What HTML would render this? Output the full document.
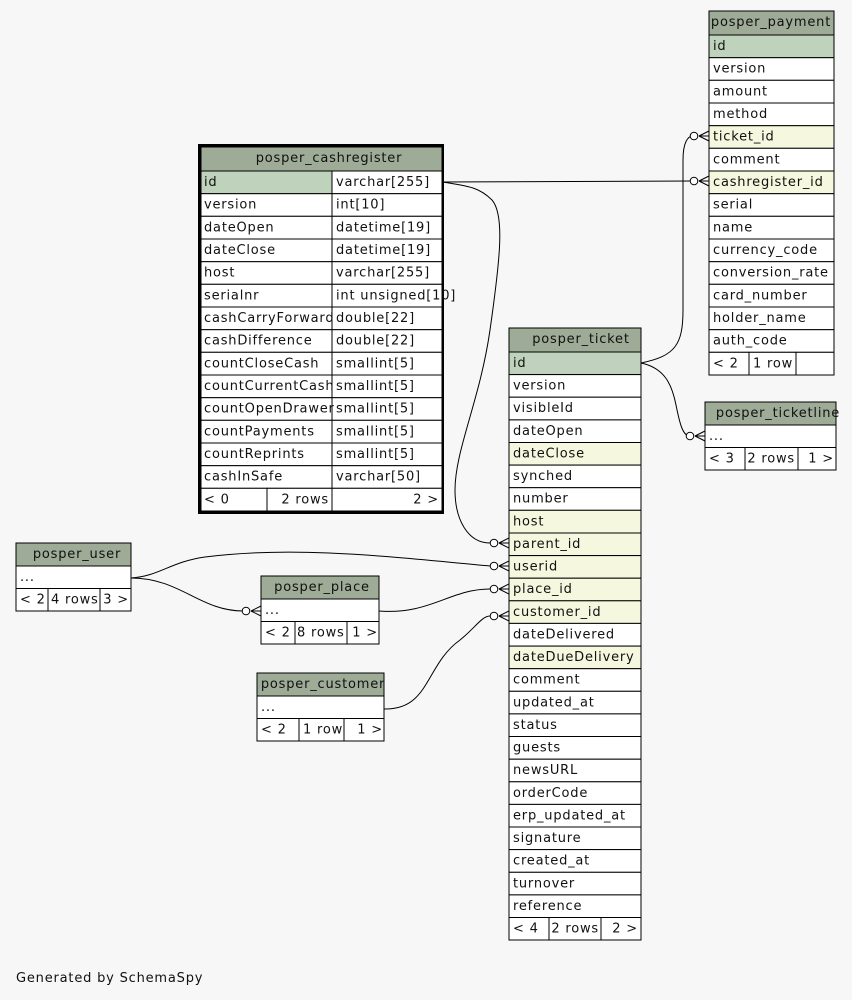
<!DOCTYPE html>
<html><head><meta charset="utf-8"><style>
html,body{margin:0;padding:0;background:#f7f7f7;}
svg{display:block;font-family:"DejaVu Sans","Liberation Sans",sans-serif;font-size:13px;letter-spacing:0.8px;}
.h{fill:#9eab97;stroke:#000;stroke-width:1}
.p{fill:#bfd2bb;stroke:#000;stroke-width:1}
.w{fill:#fff;stroke:#000;stroke-width:1}
.f{fill:#f5f8de;stroke:#000;stroke-width:1}
text{fill:#111}
.c{fill:none;stroke:#000;stroke-width:1}
.ci{fill:#fff;stroke:#000;stroke-width:1}
</style></head><body>
<svg width="852" height="1000" viewBox="0 0 852 1000">
<rect width="852" height="1000" fill="#f7f7f7"/>

<!-- connectors -->
<path class="c" d="M442,182 L693,181"/>
<path class="c" d="M442,182 C470,186 480,188 492,200 C505,215 500,260 490,330 C480,400 455,450 455,490 C455,520 468,543 490,543"/>
<path class="c" d="M641,363 C675,356 683,345 683,310 L683,160 C683,142 688,136 693,136"/>
<path class="c" d="M641,363 C665,368 672,385 676,405 C680,425 683,436 690,436"/>
<path class="c" d="M131,578 C160,576 170,562 205,557 C300,545 400,558 490,566"/>
<path class="c" d="M131,578 C180,578 200,611 243,611"/>
<path class="c" d="M379,611 C430,615 450,589 490,589"/>
<path class="c" d="M384,709 C430,710 425,665 460,640 C475,628 482,616 490,616"/>

<!-- end markers -->
<g>
<circle class="ci" cx="694" cy="181" r="3.8"/><path d="M699,181 L709,176 M699,181 L709,186 M699,181 L709,181" class="c"/>
<circle class="ci" cx="694" cy="136" r="3.8"/><path d="M699,136 L709,131 M699,136 L709,141 M699,136 L709,136" class="c"/>
<circle class="ci" cx="690" cy="436" r="3.8"/><path d="M695,436 L705,431 M695,436 L705,441 M695,436 L705,436" class="c"/>
<circle class="ci" cx="494" cy="543" r="3.8"/><path d="M499,543 L509,538 M499,543 L509,548 M499,543 L509,543" class="c"/>
<circle class="ci" cx="494" cy="566" r="3.8"/><path d="M499,566 L509,561 M499,566 L509,571 M499,566 L509,566" class="c"/>
<circle class="ci" cx="494" cy="589" r="3.8"/><path d="M499,589 L509,584 M499,589 L509,594 M499,589 L509,589" class="c"/>
<circle class="ci" cx="494" cy="616" r="3.8"/><path d="M499,616 L509,611 M499,616 L509,621 M499,616 L509,616" class="c"/>
<circle class="ci" cx="246" cy="611" r="3.8"/><path d="M251,611 L261,606 M251,611 L261,616 M251,611 L261,611" class="c"/>
</g>

<!-- cashregister -->
<rect x="199.5" y="145.5" width="243" height="367" fill="none" stroke="#000" stroke-width="3"/>
<rect class="h" x="201" y="147" width="241" height="24"/><text x="329" y="162" text-anchor="middle">posper_cashregister</text>
<rect class="p" x="201" y="171" width="131" height="22.7"/><rect class="w" x="332" y="171" width="110" height="22.7"/>
<text x="204" y="186">id</text><text x="336" y="186">varchar[255]</text>
<rect class="w" x="201" y="193.7" width="131" height="22.6"/><rect class="w" x="332" y="193.7" width="110" height="22.6"/><text x="204" y="208.7">version</text><text x="336" y="208.7">int[10]</text>
<rect class="w" x="201" y="216.3" width="131" height="22.7"/><rect class="w" x="332" y="216.3" width="110" height="22.7"/><text x="204" y="231.3">dateOpen</text><text x="336" y="231.3">datetime[19]</text>
<rect class="w" x="201" y="239" width="131" height="22.7"/><rect class="w" x="332" y="239" width="110" height="22.7"/><text x="204" y="254">dateClose</text><text x="336" y="254">datetime[19]</text>
<rect class="w" x="201" y="261.7" width="131" height="22.6"/><rect class="w" x="332" y="261.7" width="110" height="22.6"/><text x="204" y="276.7">host</text><text x="336" y="276.7">varchar[255]</text>
<rect class="w" x="201" y="284.3" width="131" height="22.7"/><rect class="w" x="332" y="284.3" width="110" height="22.7"/><text x="204" y="299.3">serialnr</text><text x="336" y="299.3">int unsigned[10]</text>
<rect class="w" x="201" y="307" width="131" height="22.7"/><rect class="w" x="332" y="307" width="110" height="22.7"/><text x="204" y="322">cashCarryForward</text><text x="336" y="322">double[22]</text>
<rect class="w" x="201" y="329.7" width="131" height="22.6"/><rect class="w" x="332" y="329.7" width="110" height="22.6"/><text x="204" y="344.7">cashDifference</text><text x="336" y="344.7">double[22]</text>
<rect class="w" x="201" y="352.3" width="131" height="22.7"/><rect class="w" x="332" y="352.3" width="110" height="22.7"/><text x="204" y="367.3">countCloseCash</text><text x="336" y="367.3">smallint[5]</text>
<rect class="w" x="201" y="375" width="131" height="22.7"/><rect class="w" x="332" y="375" width="110" height="22.7"/><text x="204" y="390">countCurrentCash</text><text x="336" y="390">smallint[5]</text>
<rect class="w" x="201" y="397.7" width="131" height="22.6"/><rect class="w" x="332" y="397.7" width="110" height="22.6"/><text x="204" y="412.7">countOpenDrawer</text><text x="336" y="412.7">smallint[5]</text>
<rect class="w" x="201" y="420.3" width="131" height="22.7"/><rect class="w" x="332" y="420.3" width="110" height="22.7"/><text x="204" y="435.3">countPayments</text><text x="336" y="435.3">smallint[5]</text>
<rect class="w" x="201" y="443" width="131" height="22.7"/><rect class="w" x="332" y="443" width="110" height="22.7"/><text x="204" y="458">countReprints</text><text x="336" y="458">smallint[5]</text>
<rect class="w" x="201" y="465.7" width="131" height="22.6"/><rect class="w" x="332" y="465.7" width="110" height="22.6"/><text x="204" y="480.7">cashInSafe</text><text x="336" y="480.7">varchar[50]</text>
<rect class="w" x="201" y="488.3" width="66" height="22.7"/><rect class="w" x="267" y="488.3" width="65" height="22.7"/><rect class="w" x="332" y="488.3" width="110" height="22.7"/>
<text x="204" y="503.3">&lt; 0</text><text x="329" y="503.3" text-anchor="end">2 rows</text><text x="439" y="503.3" text-anchor="end">2 &gt;</text>

<!-- payment -->
<rect class="h" x="709" y="11" width="125" height="24"/><text x="771" y="26" text-anchor="middle">posper_payment</text>
<rect class="p" x="709" y="35" width="125" height="22.7"/><text x="713" y="50">id</text>
<rect class="w" x="709" y="57.7" width="125" height="22.6"/><text x="713" y="72.7">version</text>
<rect class="w" x="709" y="80.3" width="125" height="22.7"/><text x="713" y="95.3">amount</text>
<rect class="w" x="709" y="103" width="125" height="22.7"/><text x="713" y="118">method</text>
<rect class="f" x="709" y="125.7" width="125" height="22.6"/><text x="713" y="140.7">ticket_id</text>
<rect class="w" x="709" y="148.3" width="125" height="22.7"/><text x="713" y="163.3">comment</text>
<rect class="f" x="709" y="171" width="125" height="22.7"/><text x="713" y="186">cashregister_id</text>
<rect class="w" x="709" y="193.7" width="125" height="22.6"/><text x="713" y="208.7">serial</text>
<rect class="w" x="709" y="216.3" width="125" height="22.7"/><text x="713" y="231.3">name</text>
<rect class="w" x="709" y="239" width="125" height="22.7"/><text x="713" y="254">currency_code</text>
<rect class="w" x="709" y="261.7" width="125" height="22.6"/><text x="713" y="276.7">conversion_rate</text>
<rect class="w" x="709" y="284.3" width="125" height="22.7"/><text x="713" y="299.3">card_number</text>
<rect class="w" x="709" y="307" width="125" height="22.7"/><text x="713" y="322">holder_name</text>
<rect class="w" x="709" y="329.7" width="125" height="22.6"/><text x="713" y="344.7">auth_code</text>
<rect class="w" x="709" y="352.3" width="40" height="22.7"/><rect class="w" x="749" y="352.3" width="47" height="22.7"/><rect class="w" x="796" y="352.3" width="38" height="22.7"/>
<text x="713" y="367.3">&lt; 2</text><text x="753" y="367.3">1 row</text>

<!-- ticketline -->
<rect class="h" x="705" y="402" width="131" height="23"/><text x="778" y="417" text-anchor="middle">posper_ticketline</text>
<rect class="w" x="705" y="425" width="131" height="22.5"/><text x="709" y="440">...</text>
<rect class="w" x="705" y="447.5" width="40" height="22.5"/><rect class="w" x="745" y="447.5" width="53" height="22.5"/><rect class="w" x="798" y="447.5" width="38" height="22.5"/>
<text x="709" y="462.5">&lt; 3</text><text x="795" y="462.5" text-anchor="end">2 rows</text><text x="834" y="462.5" text-anchor="end">1 &gt;</text>

<!-- ticket -->
<rect class="h" x="509" y="328" width="132" height="24"/><text x="581" y="343" text-anchor="middle">posper_ticket</text>
<rect class="p" x="509" y="352" width="132" height="22.6"/><text x="513" y="367">id</text>
<rect class="w" x="509" y="374.6" width="132" height="22.6"/><text x="513" y="389.6">version</text>
<rect class="w" x="509" y="397.2" width="132" height="22.7"/><text x="513" y="412.2">visibleId</text>
<rect class="w" x="509" y="419.9" width="132" height="22.6"/><text x="513" y="434.9">dateOpen</text>
<rect class="f" x="509" y="442.5" width="132" height="22.6"/><text x="513" y="457.5">dateClose</text>
<rect class="w" x="509" y="465.1" width="132" height="22.6"/><text x="513" y="480.1">synched</text>
<rect class="w" x="509" y="487.7" width="132" height="22.6"/><text x="513" y="502.7">number</text>
<rect class="f" x="509" y="510.3" width="132" height="22.7"/><text x="513" y="525.3">host</text>
<rect class="f" x="509" y="533" width="132" height="22.6"/><text x="513" y="548">parent_id</text>
<rect class="f" x="509" y="555.6" width="132" height="22.6"/><text x="513" y="570.6">userid</text>
<rect class="f" x="509" y="578.2" width="132" height="22.6"/><text x="513" y="593.2">place_id</text>
<rect class="f" x="509" y="600.8" width="132" height="22.6"/><text x="513" y="615.8">customer_id</text>
<rect class="w" x="509" y="623.4" width="132" height="22.7"/><text x="513" y="638.4">dateDelivered</text>
<rect class="f" x="509" y="646.1" width="132" height="22.6"/><text x="513" y="661.1">dateDueDelivery</text>
<rect class="w" x="509" y="668.7" width="132" height="22.6"/><text x="513" y="683.7">comment</text>
<rect class="w" x="509" y="691.3" width="132" height="22.6"/><text x="513" y="706.3">updated_at</text>
<rect class="w" x="509" y="713.9" width="132" height="22.6"/><text x="513" y="728.9">status</text>
<rect class="w" x="509" y="736.5" width="132" height="22.7"/><text x="513" y="751.5">guests</text>
<rect class="w" x="509" y="759.2" width="132" height="22.6"/><text x="513" y="774.2">newsURL</text>
<rect class="w" x="509" y="781.8" width="132" height="22.6"/><text x="513" y="796.8">orderCode</text>
<rect class="w" x="509" y="804.4" width="132" height="22.6"/><text x="513" y="819.4">erp_updated_at</text>
<rect class="w" x="509" y="827" width="132" height="22.6"/><text x="513" y="842">signature</text>
<rect class="w" x="509" y="849.6" width="132" height="22.7"/><text x="513" y="864.6">created_at</text>
<rect class="w" x="509" y="872.3" width="132" height="22.6"/><text x="513" y="887.3">turnover</text>
<rect class="w" x="509" y="894.9" width="132" height="22.6"/><text x="513" y="909.9">reference</text>
<rect class="w" x="509" y="917.5" width="40" height="22.5"/><rect class="w" x="549" y="917.5" width="52" height="22.5"/><rect class="w" x="601" y="917.5" width="40" height="22.5"/>
<text x="513" y="932.5">&lt; 4</text><text x="599" y="932.5" text-anchor="end">2 rows</text><text x="638" y="932.5" text-anchor="end">2 &gt;</text>

<!-- user -->
<rect class="h" x="16" y="543" width="115" height="23"/><text x="77" y="558" text-anchor="middle">posper_user</text>
<rect class="w" x="16" y="566" width="115" height="22.5"/><text x="20" y="581">...</text>
<rect class="w" x="16" y="588.5" width="32" height="22.5"/><rect class="w" x="48" y="588.5" width="52" height="22.5"/><rect class="w" x="100" y="588.5" width="31" height="22.5"/>
<text x="20" y="603.5">&lt; 2</text><text x="51" y="603.5">4 rows</text><text x="129" y="603.5" text-anchor="end">3 &gt;</text>

<!-- place -->
<rect class="h" x="261" y="576" width="118" height="23"/><text x="322" y="591" text-anchor="middle">posper_place</text>
<rect class="w" x="261" y="599" width="118" height="22.5"/><text x="265" y="614">...</text>
<rect class="w" x="261" y="621.5" width="34" height="22.5"/><rect class="w" x="295" y="621.5" width="52" height="22.5"/><rect class="w" x="347" y="621.5" width="32" height="22.5"/>
<text x="265" y="636.5">&lt; 2</text><text x="297" y="636.5">8 rows</text><text x="378" y="636.5" text-anchor="end">1 &gt;</text>

<!-- customer -->
<rect class="h" x="257" y="673" width="127" height="23"/><text x="323" y="688" text-anchor="middle">posper_customer</text>
<rect class="w" x="257" y="696" width="127" height="22.5"/><text x="261" y="711">...</text>
<rect class="w" x="257" y="718.5" width="42" height="22.5"/><rect class="w" x="299" y="718.5" width="45" height="22.5"/><rect class="w" x="344" y="718.5" width="40" height="22.5"/>
<text x="261" y="733.5">&lt; 2</text><text x="303" y="733.5">1 row</text><text x="383" y="733.5" text-anchor="end">1 &gt;</text>

<text x="16" y="982">Generated by SchemaSpy</text>
</svg>
</body></html>
